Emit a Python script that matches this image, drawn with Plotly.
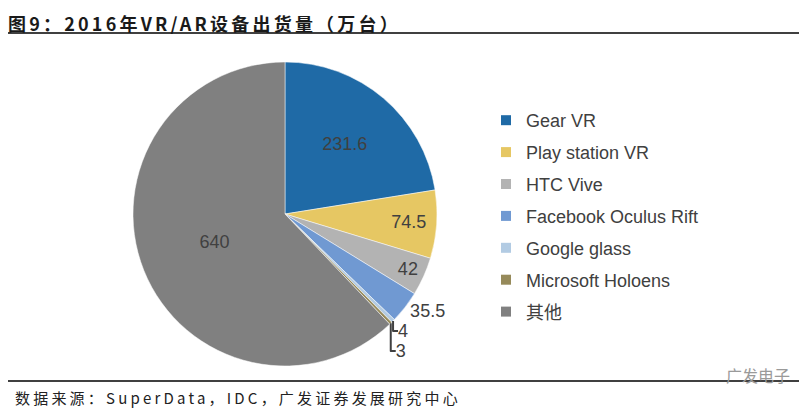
import plotly.graph_objects as go

labels = ["Gear VR", "Play station VR", "HTC Vive", "Facebook Oculus Rift",
          "Google glass", "Microsoft Holoens", "其他"]
values = [231.6, 74.5, 42, 35.5, 4, 3, 640]
colors = ["#1F6AA6", "#E6C763", "#B3B3B3", "#7099D2", "#B2CBE3", "#968A5A", "#808080"]
positions = ["inside", "inside", "inside", "outside", "outside", "outside", "inside"]

title_text = "图9：2016年VR/AR设备出货量（万台）"
source_text = "数据来源：SuperData，IDC，广发证券发展研究中心"
watermark_text = "广发电子"

# page body has an 8px margin: figure drawn from (8, 8)
OFF = 8
W, H = 807 - OFF, 409 - OFF


def px(x):
    return (x - OFF) / W


def py(y):
    return 1 - (y - OFF) / H


fig = go.Figure()
fig.add_trace(go.Pie(
    labels=labels, values=values, sort=False, direction="clockwise",
    marker=dict(colors=colors, line=dict(color="white", width=0.5)),
    textposition=positions, texttemplate="%{value}",
    insidetextorientation="horizontal",
    textfont=dict(family="Liberation Sans, Arial", size=18, color="#404040"),
    domain=dict(x=[px(285 - 152), px(285 + 152)],
                y=[py(366), py(62)]),
    showlegend=False, hoverinfo="label+value",
))

for i, (lab, col) in enumerate(zip(labels, colors)):
    fig.add_trace(go.Scatter(
        x=[None], y=[None], mode="markers", name=lab, legendgroup=str(i),
        marker=dict(symbol="square", size=10, color=col),
    ))

fig.update_layout(
    width=W, height=H, margin=dict(l=0, r=0, t=0, b=0),
    paper_bgcolor="white", plot_bgcolor="white",
    xaxis=dict(visible=False), yaxis=dict(visible=False),
    uniformtext=dict(minsize=18, mode="show"),
    legend=dict(x=px(526 - 40), xanchor="left", y=py(102), yanchor="top",
                font=dict(family="Liberation Sans, Arial, Noto Sans CJK SC", size=18, color="#404040"),
                tracegroupgap=5.5, bgcolor="rgba(0,0,0,0)"),
    showlegend=True,
)

fig.add_annotation(text="<b><span style='letter-spacing:3.2px'>" + title_text + "</span></b>",
                   xref="paper", yref="paper",
                   x=px(6), y=1, xanchor="left", yanchor="top", showarrow=False,
                   font=dict(family="Noto Sans CJK SC", size=18, color="#1a1a1a"))
fig.add_annotation(text="<span style='letter-spacing:3.2px'>" + source_text + "</span>",
                   xref="paper", yref="paper",
                   x=px(13), y=py(397), xanchor="left", yanchor="middle", showarrow=False,
                   font=dict(family="Noto Sans CJK SC", size=15, color="#222222"))
fig.add_annotation(text=watermark_text, xref="paper", yref="paper",
                   x=px(792), y=py(375), xanchor="right", yanchor="middle", showarrow=False,
                   font=dict(family="Noto Sans CJK SC", size=16, color="#9a9a9a"))

fig.add_shape(type="line", xref="paper", yref="paper", x0=px(6), x1=px(801),
              y0=py(33), y1=py(33), line=dict(color="black", width=1.5))
fig.add_shape(type="line", xref="paper", yref="paper", x0=px(6), x1=px(801),
              y0=py(381), y1=py(381), line=dict(color="black", width=1.5))

fig.write_html("out.html")
